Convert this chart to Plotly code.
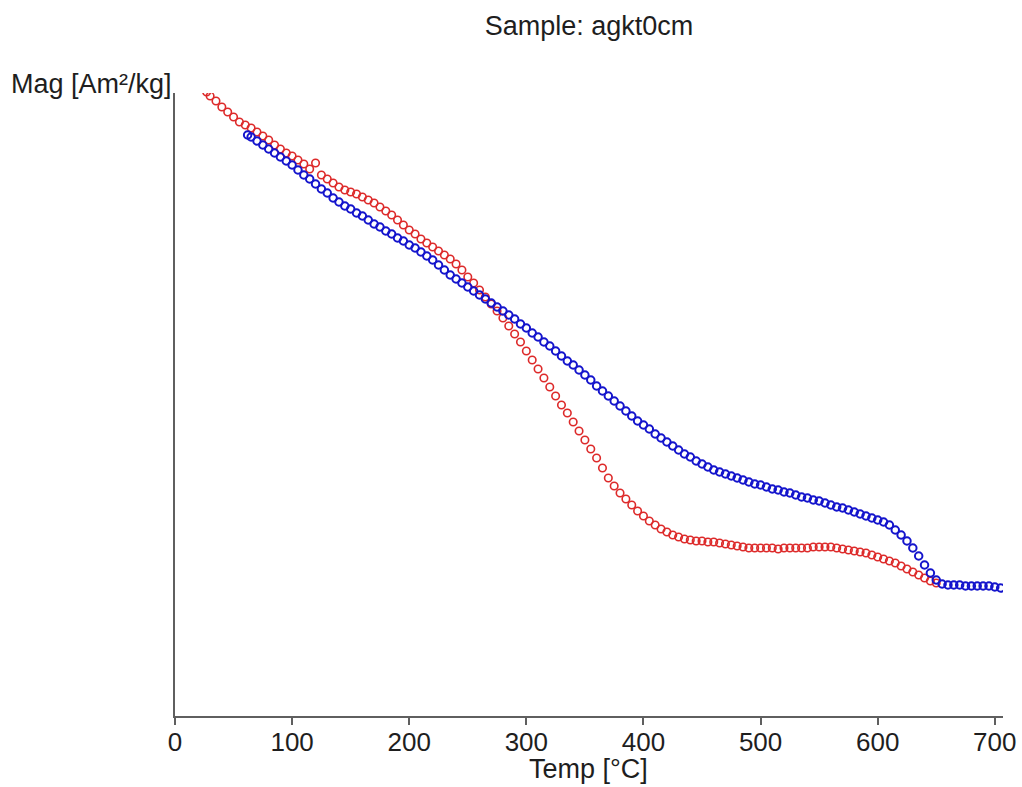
import plotly.graph_objects as go

# Heating curve (red)
red_temp = [27, 30, 35, 40, 45, 50, 55, 60, 65, 70, 75, 80, 85, 90, 95, 100, 105, 110, 115, 120,
            125, 130, 135, 140, 145, 150, 155, 160, 165, 170, 175, 180, 185, 190, 195, 200, 205, 210,
            215, 220, 225, 230, 235, 240, 245, 250, 255, 260, 265, 270, 275, 280, 285, 290, 295, 300,
            305, 310, 315, 320, 325, 330, 335, 340, 345, 350, 355, 360, 365, 370, 375, 380, 385, 390,
            395, 400, 405, 410, 415, 420, 425, 430, 435, 440, 445, 450, 455, 460, 465, 470, 475, 480,
            485, 490, 495, 500, 505, 510, 515, 520, 525, 530, 535, 540, 545, 550, 555, 560, 565, 570,
            575, 580, 585, 590, 595, 600, 605, 610, 615, 620, 625, 630, 635, 640, 645, 650]
red_mag = [6.24, 6.20, 6.15, 6.09, 6.04, 5.99, 5.94, 5.91, 5.88, 5.84, 5.80, 5.76, 5.71, 5.67, 5.63, 5.60,
           5.56, 5.52, 5.47, 5.53, 5.41, 5.37, 5.33, 5.29, 5.26, 5.24, 5.22, 5.19, 5.16, 5.13, 5.09, 5.05,
           5.01, 4.96, 4.91, 4.86, 4.82, 4.77, 4.73, 4.69, 4.65, 4.61, 4.57, 4.52, 4.46, 4.39, 4.33, 4.26,
           4.19, 4.12, 4.05, 3.98, 3.90, 3.82, 3.74, 3.65, 3.56, 3.47, 3.38, 3.29, 3.20, 3.11, 3.03, 2.94,
           2.85, 2.76, 2.67, 2.58, 2.48, 2.38, 2.30, 2.23, 2.17, 2.11, 2.05, 2.00, 1.95, 1.91, 1.87, 1.84,
           1.81, 1.79, 1.77, 1.76, 1.75, 1.75, 1.74, 1.74, 1.73, 1.72, 1.71, 1.70, 1.69, 1.68, 1.68, 1.68,
           1.68, 1.68, 1.67, 1.68, 1.68, 1.68, 1.68, 1.68, 1.69, 1.69, 1.69, 1.69, 1.68, 1.67, 1.66, 1.65,
           1.64, 1.63, 1.61, 1.59, 1.57, 1.55, 1.53, 1.50, 1.47, 1.44, 1.41, 1.38, 1.35, 1.33]

# Cooling curve (blue)
blue_temp = [62, 65, 70, 75, 80, 85, 90, 95, 100, 105, 110, 115, 120, 125, 130, 135, 140, 145, 150, 155,
             160, 165, 170, 175, 180, 185, 190, 195, 200, 205, 210, 215, 220, 225, 230, 235, 240, 245,
             250, 255, 260, 265, 270, 275, 280, 285, 290, 295, 300, 305, 310, 315, 320, 325, 330, 335,
             340, 345, 350, 355, 360, 365, 370, 375, 380, 385, 390, 395, 400, 405, 410, 415, 420, 425,
             430, 435, 440, 445, 450, 455, 460, 465, 470, 475, 480, 485, 490, 495, 500, 505, 510, 515,
             520, 525, 530, 535, 540, 545, 550, 555, 560, 565, 570, 575, 580, 585, 590, 595, 600, 605,
             610, 615, 620, 625, 630, 635, 640, 645, 650, 655, 660, 665, 670, 675, 680, 685, 690, 695,
             700, 705]
blue_mag = [5.81, 5.79, 5.75, 5.71, 5.67, 5.63, 5.59, 5.55, 5.51, 5.46, 5.41, 5.37, 5.32, 5.27, 5.23, 5.18,
            5.14, 5.10, 5.07, 5.03, 5.00, 4.96, 4.92, 4.89, 4.85, 4.82, 4.78, 4.75, 4.71, 4.68, 4.64, 4.60,
            4.56, 4.51, 4.46, 4.41, 4.37, 4.33, 4.29, 4.25, 4.21, 4.17, 4.13, 4.09, 4.05, 4.01, 3.97, 3.92,
            3.88, 3.83, 3.79, 3.74, 3.70, 3.65, 3.60, 3.55, 3.51, 3.46, 3.41, 3.36, 3.30, 3.25, 3.20, 3.15,
            3.10, 3.05, 3.00, 2.95, 2.91, 2.87, 2.82, 2.78, 2.74, 2.70, 2.66, 2.62, 2.59, 2.55, 2.52, 2.49,
            2.46, 2.44, 2.42, 2.40, 2.38, 2.36, 2.34, 2.32, 2.31, 2.29, 2.27, 2.26, 2.24, 2.23, 2.21, 2.19,
            2.18, 2.16, 2.15, 2.13, 2.11, 2.09, 2.08, 2.06, 2.04, 2.02, 2.00, 1.98, 1.96, 1.94, 1.91, 1.86,
            1.81, 1.75, 1.68, 1.60, 1.51, 1.43, 1.36, 1.32, 1.31, 1.31, 1.31, 1.30, 1.30, 1.30, 1.30, 1.30,
            1.29, 1.28]

x_ticks = [0, 100, 200, 300, 400, 500, 600, 700]

title_text = "Sample: agkt0cm"
x_label = "Temp [°C]"
y_label = "Mag [Am²/kg]"

FONT = "Liberation Sans, Arial, sans-serif"
TXT = "#1e1e1e"
AX = "#5f5f5f"

fig = go.Figure()
fig.add_trace(go.Scatter(
    x=red_temp, y=red_mag, mode="markers",
    marker=dict(symbol="circle-open", size=7.5, color="#dd2a2a", line=dict(width=1.6, color="#dd2a2a")),
    showlegend=False, hoverinfo="skip"))
fig.add_trace(go.Scatter(
    x=blue_temp, y=blue_mag, mode="markers",
    marker=dict(symbol="circle-open", size=7.5, color="#1414cc", line=dict(width=2, color="#1414cc")),
    showlegend=False, hoverinfo="skip"))

W, H = 1022, 787
L, R, T, B = 175, 19, 93, 71

fig.update_layout(
    width=W, height=H,
    margin=dict(l=L, r=R, t=T, b=B, autoexpand=False),
    paper_bgcolor="white", plot_bgcolor="white",
    font=dict(family=FONT, size=26, color=TXT),
    title=dict(text=title_text, x=589 / W, xanchor="center", y=1 - 26 / H, yanchor="middle",
               automargin=False, font=dict(family=FONT, size=27, color=TXT)),
    xaxis=dict(range=[0, 707], tickvals=x_ticks, ticktext=[str(v) for v in x_ticks],
               automargin=False,
               showgrid=False, zeroline=False, showline=True, linecolor=AX, linewidth=2,
               ticks="outside", ticklen=7, tickwidth=1.5, tickcolor=AX,
               ticklabelstandoff=-5,
               tickfont=dict(family=FONT, size=26, color=TXT)),
    yaxis=dict(range=[0, 6.23], automargin=False, showgrid=False, zeroline=False, showline=True,
               linecolor=AX, linewidth=2, ticks="", showticklabels=False),
    annotations=[
        dict(text=y_label, xref="paper", yref="paper", x=(9 - L) / (W - L - R), xanchor="left",
             y=(H - B - 84) / (H - T - B), yanchor="middle", showarrow=False,
             font=dict(family=FONT, size=27, color=TXT)),
        dict(text=x_label, xref="paper", yref="paper", x=(588 - L) / (W - L - R), xanchor="center",
             y=(H - B - 769) / (H - T - B), yanchor="middle", showarrow=False,
             font=dict(family=FONT, size=27, color=TXT)),
    ],
)

fig.write_html("out.html", config={"displayModeBar": False},
               post_script="document.body.style.margin='0';document.body.style.overflow='hidden';")
